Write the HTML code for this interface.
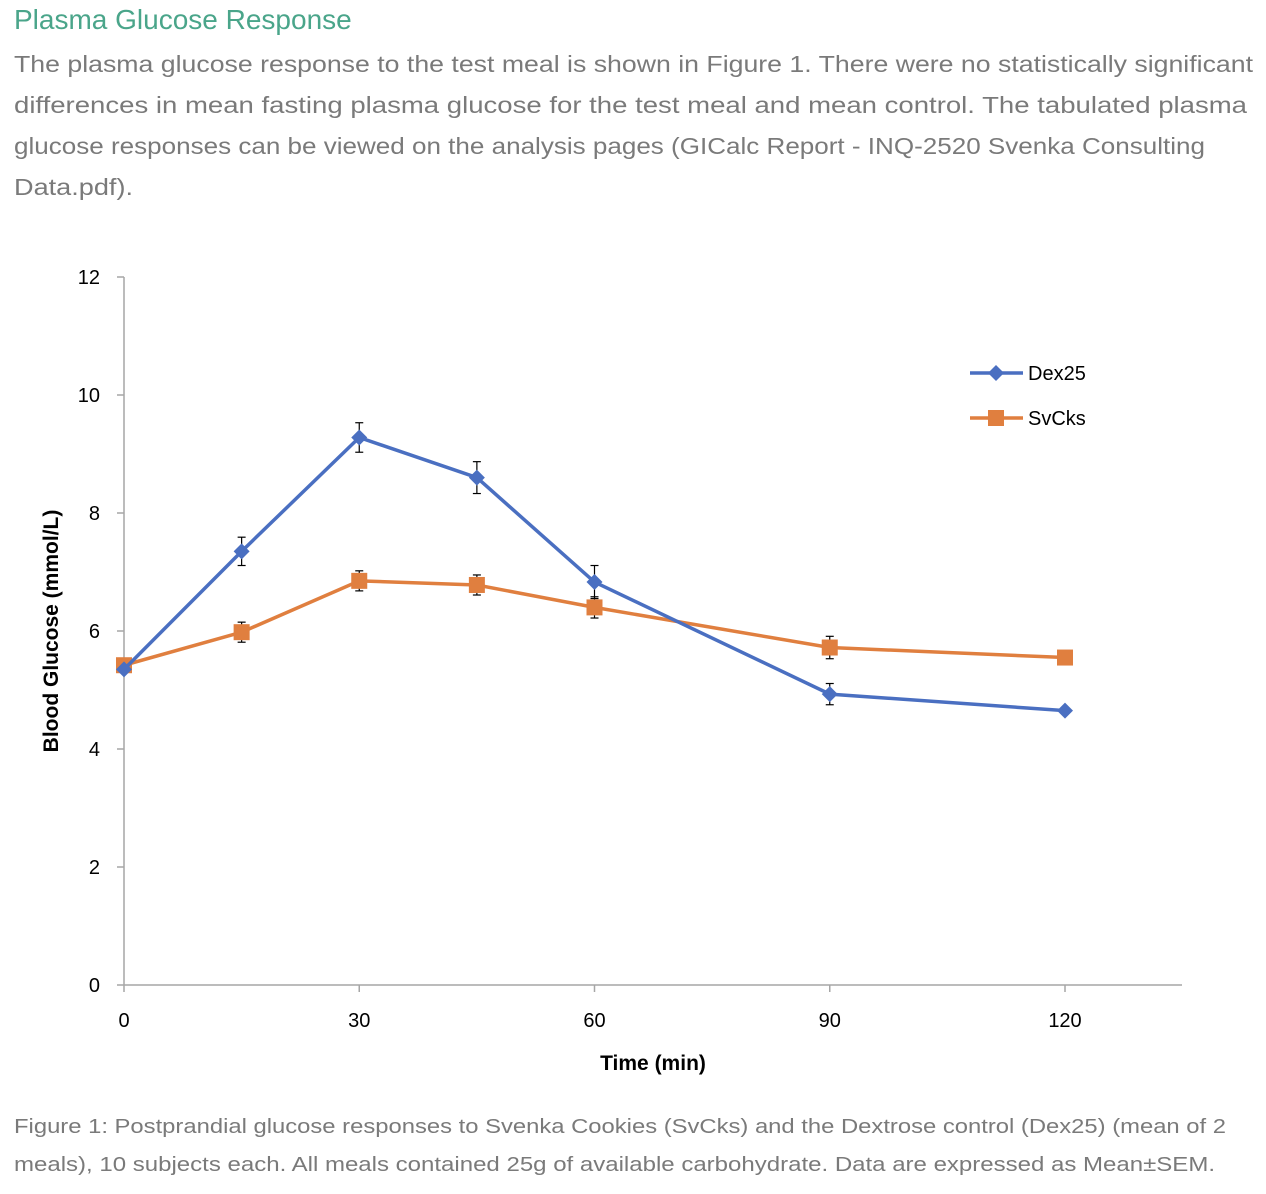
<!DOCTYPE html>
<html><head><meta charset="utf-8"><style>
body{margin:0;width:1266px;height:1194px;background:#fff;font-family:"Liberation Sans",sans-serif;position:relative;overflow:hidden}
#title{position:absolute;left:14px;top:4px;font-size:28px;color:#4aa58a}
svg{position:absolute;left:0;top:0}
</style></head><body>
<div id="title">Plasma Glucose Response</div>
<svg width="1266" height="1194" style="position:absolute;left:0;top:0">
<g font-size="23" fill="#7a7a7a" font-family="Liberation Sans, sans-serif">
<text x="14" y="72" textLength="1239" lengthAdjust="spacingAndGlyphs">The plasma glucose response to the test meal is shown in Figure 1. There were no statistically significant</text>
<text x="14" y="113" textLength="1233" lengthAdjust="spacingAndGlyphs">differences in mean fasting plasma glucose for the test meal and mean control. The tabulated plasma</text>
<text x="14" y="154" textLength="1191" lengthAdjust="spacingAndGlyphs">glucose responses can be viewed on the analysis pages (GICalc Report - INQ-2520 Svenka Consulting</text>
<text x="14" y="195" textLength="119" lengthAdjust="spacingAndGlyphs">Data.pdf).</text>
</g>
<g font-size="20" fill="#7a7a7a" font-family="Liberation Sans, sans-serif">
<text x="14" y="1133" textLength="1212" lengthAdjust="spacingAndGlyphs">Figure 1: Postprandial glucose responses to Svenka Cookies (SvCks) and the Dextrose control (Dex25) (mean of 2</text>
<text x="14" y="1171" textLength="1201" lengthAdjust="spacingAndGlyphs">meals), 10 subjects each. All meals contained 25g of available carbohydrate. Data are expressed as Mean±SEM.</text>
</g>
</svg>
<svg id="chart" width="1266" height="1194"></svg>
<script>
const times=[0,15,30,45,60,90,120];
const dexValues=[5.35,7.35,9.28,8.6,6.83,4.93,4.65];
const dexErrors=[0.05,0.24,0.25,0.27,0.28,0.18,0.05];
const svValues=[5.42,5.98,6.85,6.78,6.4,5.72,5.55];
const svErrors=[0.06,0.17,0.17,0.17,0.18,0.19,0.05];
const yTicks=[0,2,4,6,8,10,12];
const xTicks=[0,30,60,90,120];
const NS="http://www.w3.org/2000/svg";
const svg=document.getElementById('chart');
const X=t=>124+t*(941/120);
const Y=v=>985-v*59;
function mk(tag,attrs,parent){const e=document.createElementNS(NS,tag);for(const k in attrs)e.setAttribute(k,attrs[k]);(parent||svg).appendChild(e);return e;}
let g=mk('g',{});


mk('line',{x1:124,y1:Y(12),x2:124,y2:Y(0),stroke:'#a6a6a6','stroke-width':1.5},g);
yTicks.forEach(v=>{mk('line',{x1:117,y1:Y(v),x2:124,y2:Y(v),stroke:'#a6a6a6','stroke-width':1.5},g);
const t=mk('text',{x:100,y:Y(v)+7,'text-anchor':'end','font-size':20,fill:'#000'},g);t.textContent=v;

});
g=mk('g',{});


mk('line',{x1:124,y1:Y(0),x2:1182,y2:Y(0),stroke:'#a6a6a6','stroke-width':1.5},g);
xTicks.forEach(v=>{mk('line',{x1:X(v),y1:985,x2:X(v),y2:992,stroke:'#a6a6a6','stroke-width':1.5},g);
const t=mk('text',{x:X(v),y:1027,'text-anchor':'middle','font-size':20,fill:'#000'},g);t.textContent=v;

});
let t=mk('text',{x:653,y:1070,'text-anchor':'middle','font-size':21,'font-weight':'bold'});t.textContent='Time (min)';


t=mk('text',{x:0,y:0,transform:'translate(58,631) rotate(-90)','text-anchor':'middle','font-size':21,'font-weight':'bold'});t.textContent='Blood Glucose (mmol/L)';


function series(vals,errs,color,shape,name){
const sg=mk('g',{});


vals.forEach((v,i)=>{const x=X(times[i]);
mk('line',{x1:x,y1:Y(v+errs[i]),x2:x,y2:Y(v-errs[i]),stroke:'#000','stroke-width':1.2},sg);
mk('line',{x1:x-4,y1:Y(v+errs[i]),x2:x+4,y2:Y(v+errs[i]),stroke:'#000','stroke-width':1.2},sg);
mk('line',{x1:x-4,y1:Y(v-errs[i]),x2:x+4,y2:Y(v-errs[i]),stroke:'#000','stroke-width':1.2},sg);});
mk('polyline',{points:vals.map((v,i)=>X(times[i])+','+Y(v)).join(' '),fill:'none',stroke:color,'stroke-width':3.5},sg);
vals.forEach((v,i)=>{const x=X(times[i]),y=Y(v);let m;
if(shape==='d')m=mk('polygon',{points:`${x},${y-8} ${x+8},${y} ${x},${y+8} ${x-8},${y}`,fill:color},sg);
else m=mk('rect',{x:x-8,y:y-8,width:16,height:16,fill:color},sg);

});}
series(svValues,svErrors,'#e07f3f','s','svcks');
series(dexValues,dexErrors,'#4a6fc1','d','dex25');
function legend(y,color,shape,label,name){const lg=mk('g',{});


mk('line',{x1:970,y1:y,x2:1023,y2:y,stroke:color,'stroke-width':3.5},lg);
if(shape==='d')mk('polygon',{points:`996,${y-8} 1004,${y} 996,${y+8} 988,${y}`,fill:color},lg);
else mk('rect',{x:988,y:y-8,width:16,height:16,fill:color},lg);
const tt=mk('text',{x:1028,y:y+7,'font-size':20},lg);tt.textContent=label;}
legend(373,'#4a6fc1','d','Dex25','dex25');
legend(418,'#e07f3f','s','SvCks','svcks');
</script>
</body></html>
